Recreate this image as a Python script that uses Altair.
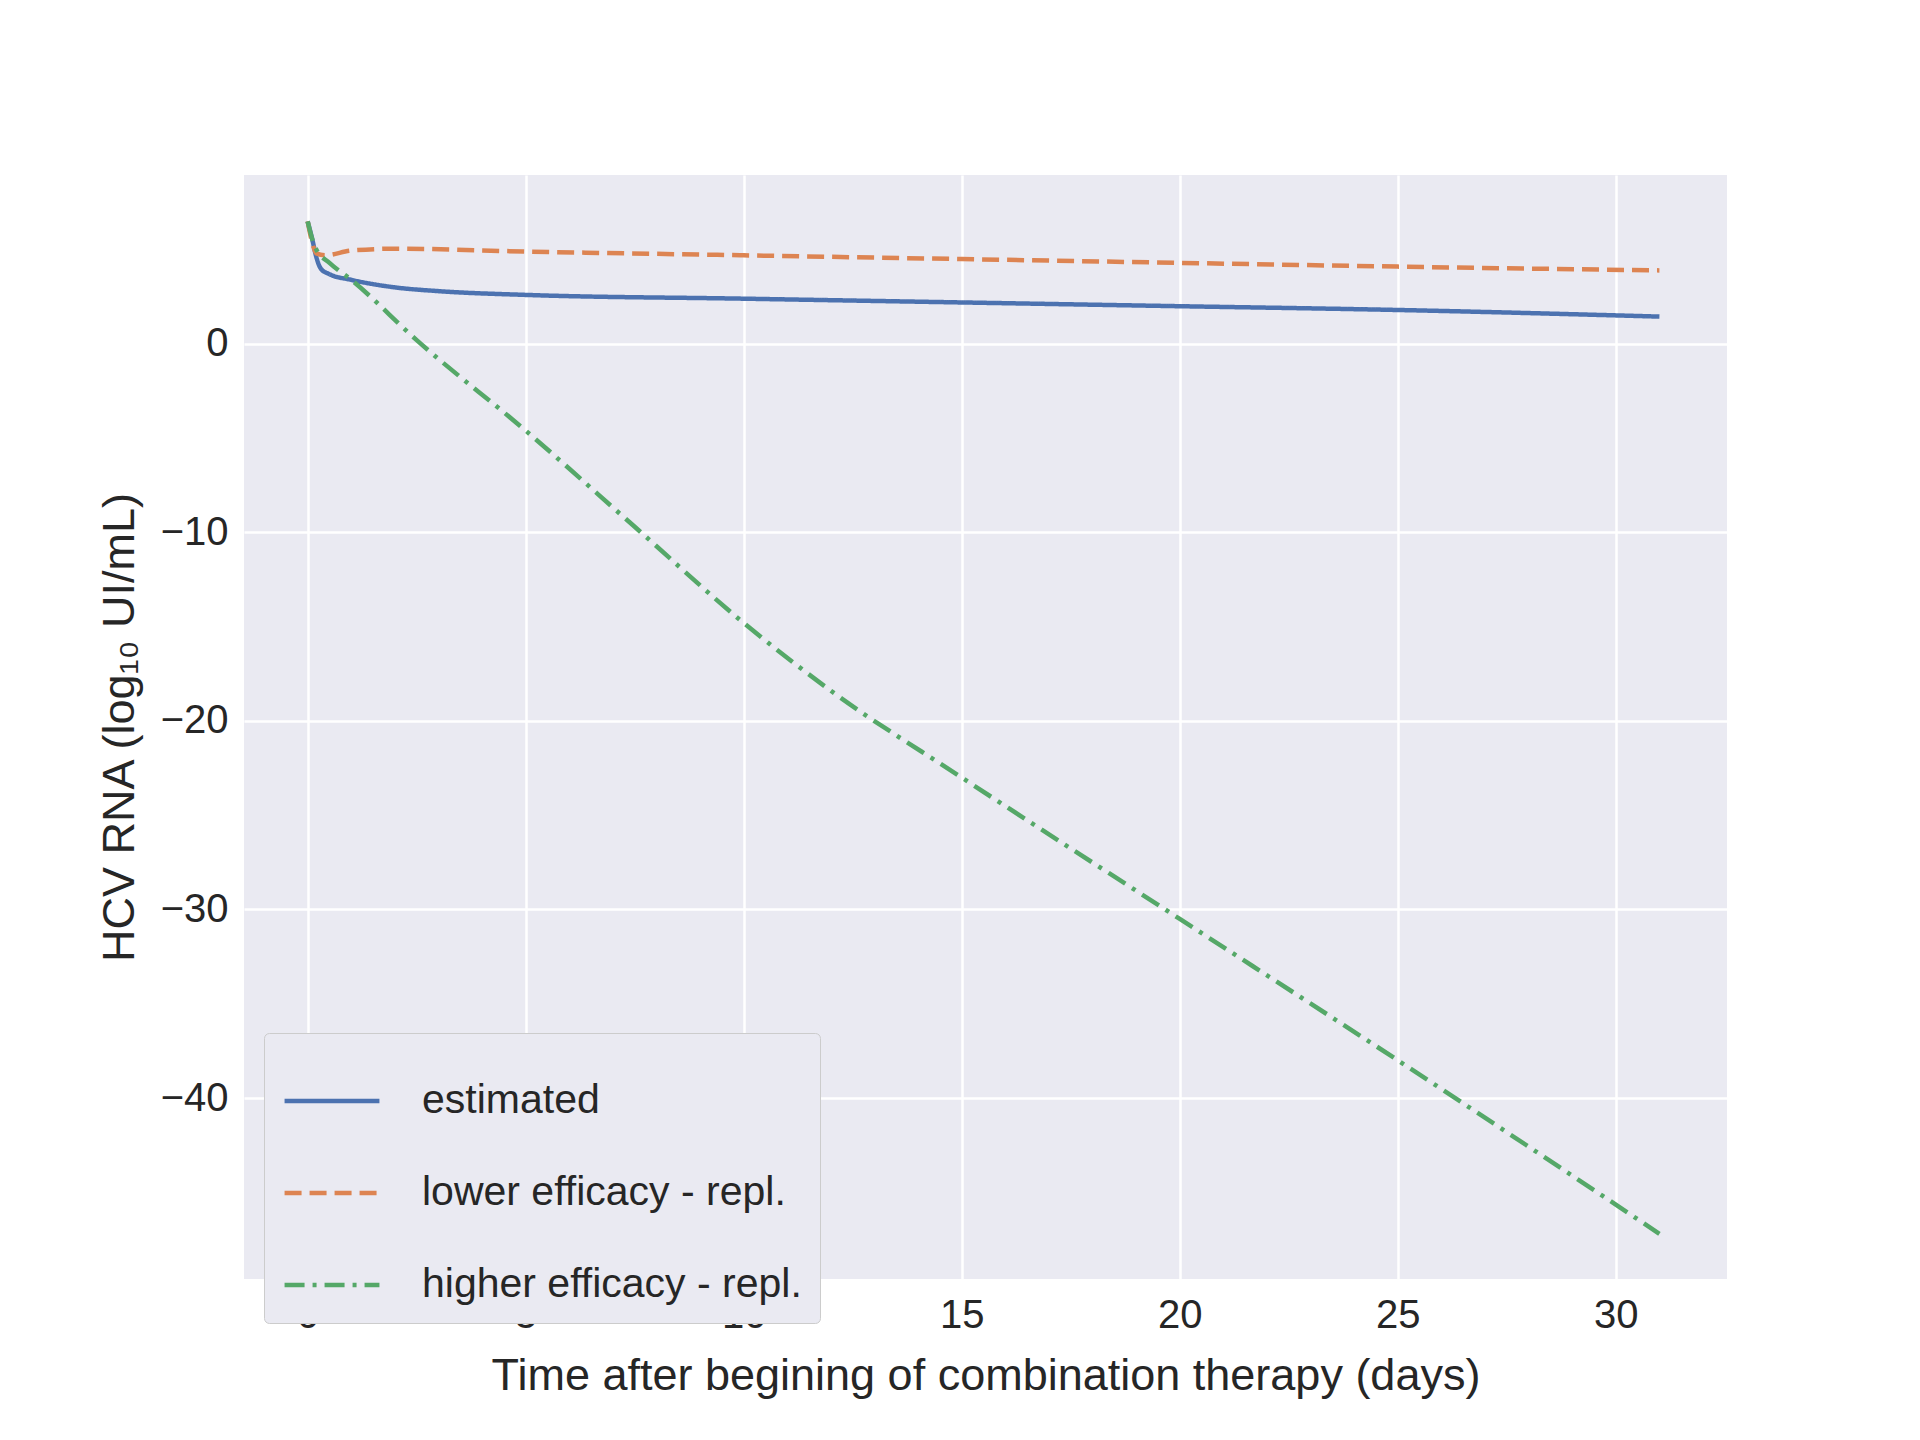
import altair as alt
import pandas as pd

est_x = [0, 0.1, 0.2, 0.3, 0.5, 1, 2, 3, 5, 10, 15, 20, 25, 31]
est_y = [6.5, 5.6, 4.6, 4.0, 3.7, 3.4, 3.0, 2.8, 2.6, 2.4, 2.2, 2.0, 1.8, 1.45]
low_x = [0, 0.1, 0.2, 0.4, 1, 2, 5, 10, 15, 20, 25, 31]
low_y = [6.5, 5.4, 4.8, 4.7, 4.95, 5.05, 4.9, 4.7, 4.5, 4.3, 4.1, 3.9]
high_x = [0, 0.1, 0.2, 0.5, 1, 2.5, 5, 7.5, 10, 12, 15, 20, 25, 31]
high_y = [6.5, 5.6, 5.0, 4.3, 3.4, 0.2, -4.6, -9.7, -14.8, -18.4, -23.0, -30.5, -38.0, -47.2]
names = ["estimated", "lower efficacy - repl.", "higher efficacy - repl."]

rows = []
for n, xs, ys in zip(names, [est_x, low_x, high_x], [est_y, low_y, high_y]):
    for x, y in zip(xs, ys):
        rows.append({"t": x, "v": y, "s": n})
df = pd.DataFrame(rows)

chart = alt.Chart(df).mark_line(strokeWidth=4.5, interpolate="monotone").encode(
    x=alt.X("t:Q", title="Time after begining of combination therapy (days)",
            scale=alt.Scale(domain=[-1.46, 32.55], nice=False, zero=False),
            axis=alt.Axis(values=[0, 5, 10, 15, 20, 25, 30], tickCount=7)),
    y=alt.Y("v:Q", title="HCV RNA (log₁₀ UI/mL)",
            scale=alt.Scale(domain=[-49.6, 8.96], nice=False),
            axis=alt.Axis(values=[0, -10, -20, -30, -40])),
    color=alt.Color("s:N", sort=names, title=None,
                    scale=alt.Scale(domain=names, range=["#4C72B0", "#DD8452", "#55A868"])),
    strokeDash=alt.StrokeDash("s:N", sort=names, title=None,
                              scale=alt.Scale(domain=names, range=[[1, 0], [17, 8], [20, 8, 4, 8]])),
    order="t:Q",
).properties(
    width=1483, height=1104,
    autosize=alt.AutoSizeParams(type="none"),
    padding={"left": 236, "top": 167, "right": 100, "bottom": 160},
).configure_view(fill="#EAEAF2", stroke=None).configure_axis(
    grid=True, gridColor="white", gridWidth=2.5, domain=False, ticks=False,
    labelFont="Liberation Sans", titleFont="Liberation Sans",
    labelFontSize=40, titleFontSize=45, labelColor="#262626", titleColor="#262626",
    titleFontWeight="normal", labelPadding=16, titlePadding=18,
).configure_legend(
    orient="none", legendX=20, legendY=858,
    labelFont="Liberation Sans", labelFontSize=41, labelColor="#262626",
    symbolType="stroke", symbolSize=9000, symbolStrokeWidth=4.5, rowPadding=22,
    labelOffset=40,
    fillColor="#EAEAF2", strokeColor="#CCCCCC", padding=18, cornerRadius=5,
    labelLimit=800, symbolOffset=0,
)
chart.save("out.html", embed_options={"renderer": "svg", "actions": False})
